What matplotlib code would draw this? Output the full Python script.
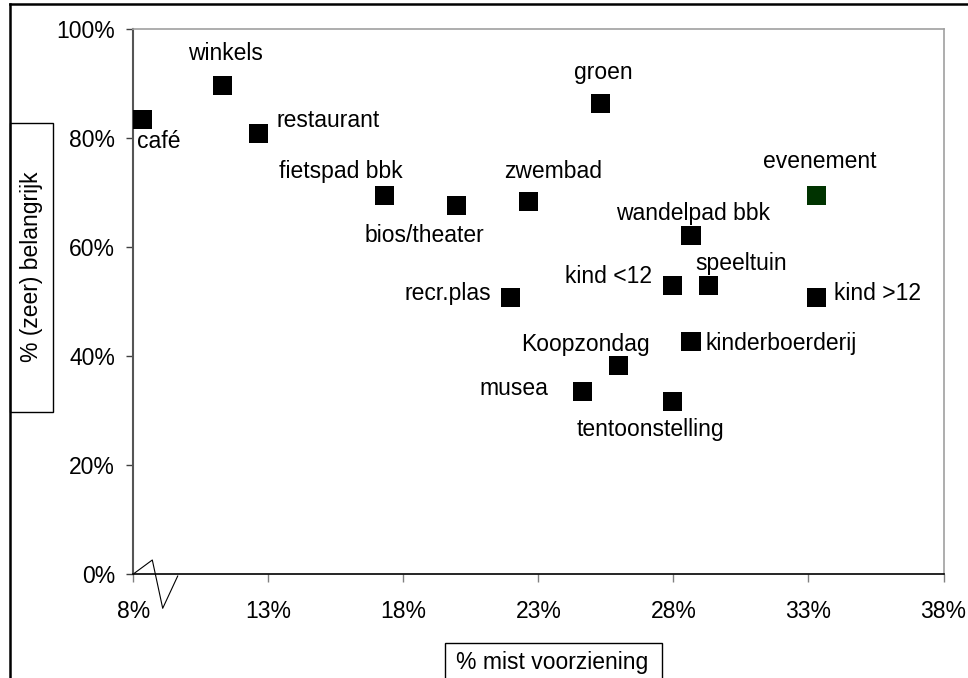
import matplotlib
matplotlib.use("Agg")
import matplotlib.pyplot as plt
from matplotlib.patches import Rectangle
from matplotlib.lines import Line2D

plt.rcParams['font.family'] = ['Liberation Sans', 'DejaVu Sans']

# ---- data ----
labels = ["café", "winkels", "restaurant", "fietspad bbk", "bios/theater", "zwembad",
          "groen", "evenement", "wandelpad bbk", "kind <12", "speeltuin", "kind >12",
          "recr.plas", "kinderboerderij", "Koopzondag", "musea", "tentoonstelling"]
mist = [8.35, 11.31, 12.65, 17.31, 19.98, 22.65,
        25.31, 33.31, 28.65, 27.98, 29.31, 33.31,
        21.98, 28.65, 25.98, 24.65, 27.98]
belangrijk = [83.4, 89.6, 80.8, 69.4, 67.6, 68.3,
              86.3, 69.4, 62.1, 52.9, 52.9, 50.7,
              50.7, 42.7, 38.3, 33.5, 31.7]
colors = ["#000000"] * 7 + ["#003300"] + ["#000000"] * 9

xticks = [8, 13, 18, 23, 28, 33, 38]
yticks = [0, 20, 40, 60, 80, 100]

# label placement (offset in points, horizontal alignment)
label_pos = {
    "café": (11.7, -16.0, "center"),
    "winkels": (1.8, 23.0, "center"),
    "restaurant": (12.9, 9.6, "left"),
    "fietspad bbk": (-31.5, 17.1, "center"),
    "bios/theater": (-23.3, -21.4, "center"),
    "zwembad": (17.4, 21.3, "center"),
    "groen": (2.0, 22.5, "center"),
    "evenement": (2.4, 24.2, "center"),
    "wandelpad bbk": (1.6, 15.8, "center"),
    "kind <12": (-15.0, 6.2, "right"),
    "speeltuin": (23.3, 15.8, "center"),
    "kind >12": (12.7, 2.9, "left"),
    "recr.plas": (-14.5, 2.9, "right"),
    "kinderboerderij": (10.2, -1.4, "left"),
    "Koopzondag": (-24.0, 14.6, "center"),
    "musea": (-24.8, 2.2, "right"),
    "tentoonstelling": (-16.0, -20.7, "center"),
}

W, H = 968, 678
fig = plt.figure(figsize=(W / 100, H / 100), dpi=100)
ax = fig.add_axes([133.3 / W, (H - 574) / H, 810.2 / W, 545.3 / H])

ax.scatter(mist, belangrijk, marker='s', s=13.7 ** 2, c=colors, linewidths=0, zorder=3, clip_on=False)

fs = 16.5
for lab, x, y in zip(labels, mist, belangrijk):
    dx, dy, ha = label_pos[lab]
    ax.annotate(lab, (x, y), xytext=(dx, dy), textcoords='offset points',
                ha=ha, va='center', fontsize=fs, color='black')

ax.set_xlim(8, 38)
ax.set_ylim(0, 100)
ax.set_xticks(xticks)
ax.set_xticklabels([f"{t}%" for t in xticks])
ax.set_yticks(yticks)
ax.set_yticklabels([f"{t}%" for t in yticks])
ax.tick_params(axis='x', direction='out', length=6, width=1, color='#808080', pad=13, labelsize=fs)
ax.tick_params(axis='y', direction='out', length=5, width=1, color='#404040', pad=8, labelsize=fs)

ax.spines['left'].set_color('#555555')
ax.spines['left'].set_linewidth(1.5)
ax.spines['bottom'].set_color('#000000')
ax.spines['bottom'].set_linewidth(1.2)
ax.spines['top'].set_color('#a0a0a0')
ax.spines['right'].set_color('#a0a0a0')
ax.spines['top'].set_linewidth(1.2)
ax.spines['right'].set_linewidth(1.2)

# axis break zigzag near origin (axes fraction)
bx = [0, 19 / 810, 29.4 / 810, 44.4 / 810]
by = [0, 14 / 545.3, -34.3 / 545.3, -2 / 545.3]
ax.add_line(Line2D(bx, by, transform=ax.transAxes, color='black', lw=0.8, clip_on=False))

# outer frame (left and top lines)
fig.add_artist(Line2D([10 / W, 10 / W], [0, 1 - 4 / H], transform=fig.transFigure, color='black', lw=1.8))
fig.add_artist(Line2D([10 / W, 1], [1 - 4 / H, 1 - 4 / H], transform=fig.transFigure, color='black', lw=1.8))

# y-axis title box
fig.add_artist(Rectangle((10 / W, (H - 412) / H), 43 / W, 289 / H, transform=fig.transFigure,
                         fill=False, edgecolor='black', lw=1.0))
fig.text(31.5 / W, (H - 267) / H, "% (zeer) belangrijk", rotation=90, ha='center', va='center', fontsize=fs)

# x-axis title box
fig.add_artist(Rectangle((445 / W, -0.01), 217 / W, (H - 643) / H + 0.01, transform=fig.transFigure,
                         fill=False, edgecolor='black', lw=1.0))
fig.text(552 / W, (H - 662) / H, "% mist voorziening", ha='center', va='center', fontsize=fs)

fig.savefig("out.png", dpi=100)
